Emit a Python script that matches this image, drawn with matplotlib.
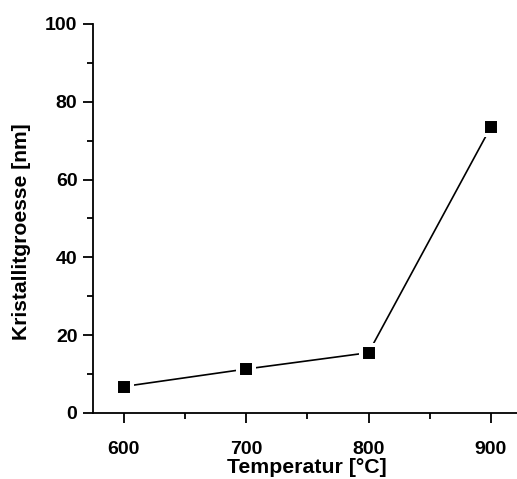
import matplotlib
matplotlib.use("Agg")
import matplotlib.pyplot as plt
from matplotlib.ticker import MultipleLocator

temperature = [600, 700, 800, 900]
crystallite_size = [6.8, 11.3, 15.5, 73.6]

plt.rcParams["font.family"] = ["Liberation Sans", "DejaVu Sans"]
plt.rcParams["font.weight"] = "bold"

fig = plt.figure(figsize=(5.17, 4.79), dpi=100)
ax = fig.add_axes([0.1799, 0.1378, 0.829, 0.8121])

# line with gaps around the square markers (white marker edge)
ax.plot(temperature, crystallite_size, color="black", lw=1.2,
        marker="s", ms=11.5, mfc="black", mec="white", mew=2.9)

ax.set_xlim(575, 925)
ax.set_ylim(0, 100)
ax.xaxis.set_major_locator(MultipleLocator(100))
ax.xaxis.set_minor_locator(MultipleLocator(50))
ax.yaxis.set_major_locator(MultipleLocator(20))
ax.yaxis.set_minor_locator(MultipleLocator(10))

for s in ("top", "right"):
    ax.spines[s].set_visible(False)
for s in ("left", "bottom"):
    ax.spines[s].set_linewidth(1.3)

ax.tick_params(which="major", direction="out", length=7.2, width=1.3,
               labelsize=14, pad=4)
ax.tick_params(which="minor", direction="out", length=4.3, width=1.3)
ax.tick_params(axis="x", which="major", pad=13)

ax.set_xlabel("Temperatur [°C]", fontsize=15.3, fontweight="bold", labelpad=0)
ax.set_ylabel("Kristallitgroesse [nm]", fontsize=15.2, fontweight="bold", labelpad=10)
ax.yaxis.label.set_y(0.465)

fig.savefig("out.png", dpi=100)
